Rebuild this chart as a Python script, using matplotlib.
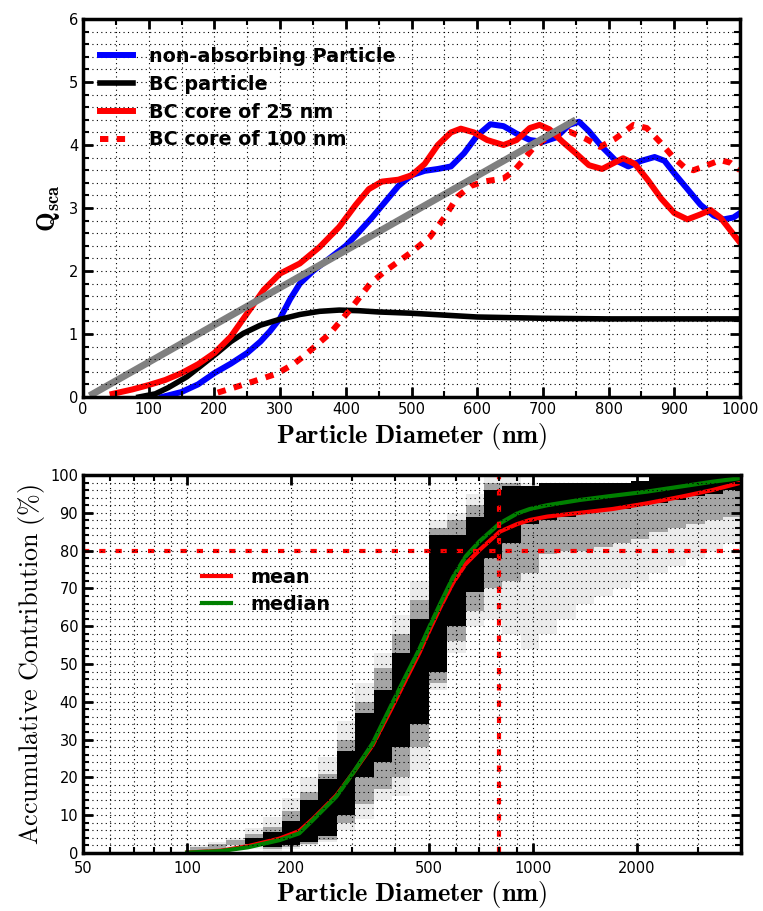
import numpy as np
import matplotlib
matplotlib.use('Agg')
import matplotlib.pyplot as plt
from matplotlib.ticker import MultipleLocator, FixedLocator, NullFormatter

plt.rcParams['mathtext.fontset'] = 'cm'
plt.rcParams['font.family'] = 'DejaVu Sans'

#%% top panel data
d_blue = [120, 150, 175, 200, 225, 250, 270, 285, 300, 315, 330, 350, 375, 400, 420, 440, 460, 480,
          500, 520, 540, 560, 580, 600, 620, 640, 660, 680, 700, 720, 740, 755, 770, 790, 810, 830,
          850, 870, 885, 900, 920, 940, 960, 975, 990, 1000]
q_blue = [0.0, 0.08, 0.2, 0.38, 0.53, 0.7, 0.88, 1.05, 1.25, 1.55, 1.8, 2.0, 2.2, 2.4, 2.62, 2.85,
          3.1, 3.35, 3.52, 3.59, 3.62, 3.66, 3.87, 4.15, 4.33, 4.3, 4.18, 4.08, 4.05, 4.12, 4.32, 4.37,
          4.22, 3.97, 3.76, 3.66, 3.75, 3.81, 3.75, 3.55, 3.3, 3.05, 2.88, 2.82, 2.85, 2.92]

d_bc = [85, 110, 130, 158, 180, 203, 225, 244, 270, 295, 330, 360, 390, 420, 450, 500, 550, 600,
        650, 700, 800, 900, 1000]
q_bc = [0.0, 0.05, 0.15, 0.32, 0.5, 0.69, 0.88, 1.01, 1.14, 1.22, 1.31, 1.36, 1.38, 1.37, 1.35,
        1.33, 1.3, 1.27, 1.26, 1.25, 1.24, 1.24, 1.24]

d_core25 = [45, 75, 100, 125, 150, 175, 200, 225, 250, 275, 300, 330, 360, 390, 415, 435, 455, 480,
            500, 520, 540, 560, 575, 595, 615, 640, 660, 680, 695, 710, 730, 750, 770, 790, 805, 822,
            840, 860, 880, 900, 920, 940, 955, 970, 985, 1000]
q_core25 = [0.05, 0.12, 0.19, 0.27, 0.38, 0.52, 0.7, 0.96, 1.33, 1.7, 1.96, 2.12, 2.38, 2.7, 3.05,
            3.3, 3.42, 3.45, 3.52, 3.7, 4.0, 4.2, 4.26, 4.2, 4.08, 4.0, 4.08, 4.27, 4.32, 4.25, 4.05,
            3.87, 3.68, 3.62, 3.7, 3.79, 3.7, 3.44, 3.15, 2.92, 2.82, 2.9, 2.97, 2.85, 2.65, 2.45]

d_core100 = [205, 230, 260, 295, 320, 335, 355, 376, 406, 437, 460, 480, 500, 528, 550, 570, 590,
             610, 640, 655, 670, 685, 701, 720, 741, 765, 787, 810, 838, 858, 878, 898, 915, 929,
             950, 970, 985, 1000]
q_core100 = [0.07, 0.15, 0.25, 0.37, 0.52, 0.64, 0.82, 1.01, 1.38, 1.8, 2.0, 2.15, 2.3, 2.54, 2.85,
             3.18, 3.35, 3.42, 3.47, 3.58, 3.76, 3.95, 4.08, 4.18, 4.21, 4.1, 3.97, 4.1, 4.32, 4.27,
             4.05, 3.81, 3.65, 3.6, 3.68, 3.76, 3.72, 3.6]

d_fit = [10, 750]
q_fit = [0.02, 4.4]

#%% bottom panel data
d_curve = [100, 125, 150, 185, 211, 231, 270, 301, 344, 394, 430, 470, 503, 540, 588, 640, 702,
           802, 900, 980, 1100, 1368, 1700, 2136, 2700, 3300, 3936]
acc_mean = [0.1, 0.6, 1.8, 3.8, 5.8, 9.0, 15.2, 21.0, 28.5, 39.0, 46.0, 53.0, 59.0, 65.0, 71.5,
            76.5, 80.2, 85.0, 87.0, 88.1, 89.0, 90.0, 91.0, 92.5, 94.3, 96.0, 97.8]
acc_median = [0.1, 0.5, 1.5, 3.4, 5.2, 8.7, 14.9, 21.0, 29.0, 40.0, 47.0, 54.0, 60.0, 66.0, 73.0,
              78.5, 82.5, 87.2, 89.8, 91.0, 92.0, 93.4, 94.5, 95.6, 97.0, 98.2, 99.1]

# 2d histogram columns (log bins), y ranges of faint / medium / black shading in %
bin_edges = 101.7 * 1.1303 ** np.arange(31)
outer_lo = [0, 0.5, 1, 1, 0.5, 1, 2, 3, 6, 9, 14, 15, 22, 43, 53, 60, 62, 58, 54, 58, 62, 66, 68,
            70, 72, 74, 76, 78, 80, 82]
outer_hi = [2, 3, 4, 6.5, 9.5, 14.5, 20, 25.5, 35, 45, 53, 63, 72, 88, 90, 95, 100, 100, 98, 98.2,
            98.2, 98.2, 98.2, 98.2, 98.5, 99.5, 100, 100, 100, 100]
mid_lo = [0.5, 1, 2, 2, 1, 1.5, 2.5, 3.5, 8, 13, 17, 20, 28, 45, 56, 64, 70, 72, 74, 79, 80, 80, 81,
          82, 83, 85, 86, 87, 88, 89]
mid_hi = [1.5, 2.5, 3.5, 5, 7, 11, 16, 21, 30, 40, 49, 58, 67, 86, 88, 92, 98, 98, 97, 98, 98, 98,
          98, 98, 98.5, 99.5, 100, 100, 100, 100]
core_lo = [np.nan, np.nan, np.nan, 2.5, 1.5, 2, 3, 4.5, 10, 20, 24, 28, 34, 48, 60, 69, 78, 82, 87,
           88, 89, 90, 90.5, 91, 92, 92.5, 93.5, 94.5, 95, 96]
core_hi = [np.nan, np.nan, np.nan, 4, 5.5, 8.5, 14, 19.5, 27, 37, 43, 53, 62, 84, 84, 89, 96, 97, 97,
           98, 98, 98, 98, 98, 98.5, 99.5, 100, 100, 100, 100]

x_labels = [50, 100, 200, 500, 1000, 2000]


def style(ax):
    for s in ax.spines.values():
        s.set_linewidth(2.5)
    ax.tick_params(which='both', direction='in', top=True, right=True, labelsize=10.5)
    ax.tick_params(which='major', length=7, width=2)
    ax.tick_params(which='minor', length=4, width=1.5)
    ax.grid(which='both', color='k', linestyle=(0, (1, 3)), linewidth=0.8)
    ax.set_axisbelow(False)


fig = plt.figure(figsize=(7.63, 9.11), dpi=100)

#%% top panel
ax1 = fig.add_axes([0.1088, 0.5642, 0.8611, 0.4149])
ax1.plot(d_blue, q_blue, color='#0000ff', lw=4.3, label='non-absorbing Particle')
ax1.plot(d_bc, q_bc, color='k', lw=4.0, label='BC particle')
ax1.plot(d_core25, q_core25, color='r', lw=4.3, label='BC core of 25 nm')
ax1.plot(d_core100, q_core100, color='r', lw=4.3, linestyle=(0, (1.4, 1.4)), label='BC core of 100 nm')
ax1.plot(d_fit, q_fit, color='#808080', lw=5.0, solid_capstyle='butt')
ax1.set_xlim(0, 1000)
ax1.set_ylim(0, 6)
ax1.xaxis.set_major_locator(MultipleLocator(100))
ax1.xaxis.set_minor_locator(MultipleLocator(50))
ax1.yaxis.set_major_locator(MultipleLocator(1))
ax1.yaxis.set_minor_locator(MultipleLocator(0.2))
style(ax1)
ax1.set_xlabel(r'$\mathbf{Particle\ Diameter\ (nm)}$', fontsize=19, labelpad=3)
ax1.set_ylabel(r'$\mathbf{Q_{sca}}$', fontsize=19, labelpad=5)
ax1.legend(loc='upper left', bbox_to_anchor=(0.0, 0.972), frameon=False,
           prop={'weight': 'bold', 'size': 13.8}, handlelength=1.7, handletextpad=0.85,
           labelspacing=0.46)

#%% bottom panel
ax2 = fig.add_axes([0.1088, 0.0637, 0.8624, 0.4149])
y_edges = np.arange(0, 100.5, 0.5)
y_mid = 0.5 * (y_edges[1:] + y_edges[:-1])
dens = np.zeros((len(y_mid), len(bin_edges) - 1))
for k in range(len(bin_edges) - 1):
    col = np.zeros(len(y_mid))
    col[(y_mid >= outer_lo[k]) & (y_mid <= outer_hi[k])] = 0.15
    col[(y_mid >= mid_lo[k]) & (y_mid <= mid_hi[k])] = 0.45
    col[(y_mid >= core_lo[k]) & (y_mid <= core_hi[k])] = 1.0
    dens[:, k] = col
ax2.pcolormesh(bin_edges, y_edges, dens, cmap='Greys', vmin=0, vmax=1, zorder=1)
ax2.plot(d_curve, acc_mean, color='r', lw=3, label='mean')
ax2.plot(d_curve, acc_median, color='g', lw=3, label='median')
ax2.axhline(80, color='r', lw=3, linestyle=(0, (1.5, 2.4)))
ax2.axvline(800, color='r', lw=3, linestyle=(0, (1.5, 2.4)))
ax2.set_xscale('log')
ax2.set_xlim(50, 4000)
ax2.set_ylim(0, 100)
ax2.xaxis.set_major_locator(FixedLocator(x_labels))
ax2.set_xticklabels([str(v) for v in x_labels])
ax2.xaxis.set_minor_locator(FixedLocator([60, 70, 80, 90, 300, 400, 600, 700, 800, 900, 3000, 4000]))
ax2.xaxis.set_minor_formatter(NullFormatter())
ax2.yaxis.set_major_locator(MultipleLocator(10))
ax2.yaxis.set_minor_locator(MultipleLocator(2))
style(ax2)
ax2.tick_params(axis='x', which='major', pad=6)
ax2.set_xlabel(r'$\mathbf{Particle\ Diameter\ (nm)}$', fontsize=19, labelpad=2)
ax2.set_ylabel(r'$\mathrm{Accumulative\ Contribution\ (\%)}$', fontsize=18.8, labelpad=2)
ax2.legend(loc='upper left', bbox_to_anchor=(0.155, 0.8), frameon=False,
           prop={'weight': 'bold', 'size': 13.8}, handlelength=1.5, handletextpad=1.0,
           labelspacing=0.4)

fig.savefig('out.png', dpi=100)
